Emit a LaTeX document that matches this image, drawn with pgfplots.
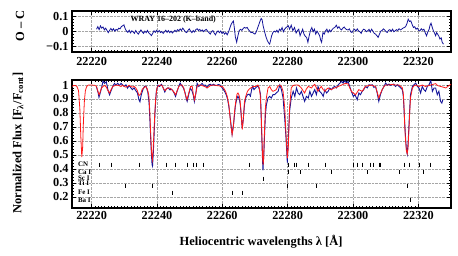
\documentclass[border=0pt]{standalone}
\usepackage{fontspec}
\setmainfont{Liberation Serif}
\usepackage{pgfplots}
\pgfplotsset{compat=1.18}
\definecolor{obsblue}{rgb}{0.08,0.08,0.6}
\definecolor{modred}{rgb}{1,0.1,0.1}
\pgfplotsset{
  common/.style={
    scale only axis,
    xmin=22214, xmax=22330,
    xtick={22220,22240,22260,22280,22300,22320},
    scaled x ticks=false,
    xticklabel={\pgfmathprintnumber[fixed,precision=0,1000 sep={}]{\tick}},
    minor x tick num=19,
    tick align=inside,
    major tick length=4bp, minor tick length=2bp,
    axis line style={line width=1.1bp},
    every tick/.style={black, line width=0.6bp},
    grid=major,
    major grid style={gray!70, densely dotted, line width=0.5bp},
    /pgf/number format/assume math mode=true,
    tick label style={font=\fontsize{12.3}{13}\selectfont\bfseries},
    clip=true,
  }
}
\begin{document}
\begin{tikzpicture}
\useasboundingbox (0bp,0bp) rectangle (458bp,-256bp);
% ---------- top panel: O - C ----------
\begin{axis}[common,
  at={(72bp,-52bp)}, anchor=south west,
  width=379bp, height=41bp,
  ymin=-0.14, ymax=0.135,
  ytick={-0.1,0,0.1}, yticklabels={−0.1,0,0.1},
  minor y tick num=4,
  xticklabel style={yshift=-2bp},
]
\addplot[obsblue, line width=0.8bp] coordinates {
(22221.5,0.013)(22221.9,0.03)(22222.3,0.01)(22222.7,0.035)(22223.1,0.02)(22223.5,0.028)(22223.9,0.008)(22224.3,0.02)(22224.7,0.005)(22225.1,-0.01)(22225.5,0.005)(22225.9,0.018)(22226.3,0.004)(22226.7,0.016)(22227.1,0.0)(22227.5,0.012)(22227.9,0.006)(22228.3,0.02)(22228.7,0.015)(22229.1,0.03)(22229.5,0.036)(22229.9,0.042)(22230.3,0.015)(22230.7,0.0)(22231.1,-0.008)(22231.5,0.006)(22231.9,-0.012)(22232.3,0.002)(22232.7,-0.005)(22233.1,-0.015)(22233.5,0.004)(22233.9,-0.01)(22234.3,-0.02)(22234.7,-0.005)(22235.1,0.008)(22235.5,-0.006)(22235.9,-0.015)(22236.3,0.0)(22236.7,-0.01)(22237.1,0.005)(22237.5,-0.012)(22237.9,-0.02)(22238.3,-0.03)(22238.7,-0.015)(22239.1,0.002)(22239.5,-0.008)(22239.9,0.006)(22240.3,-0.006)(22240.7,0.004)(22241.1,-0.01)(22241.5,-0.002)(22241.9,-0.015)(22242.3,-0.004)(22242.7,0.006)(22243.1,-0.008)(22243.5,0.004)(22243.9,-0.01)(22244.3,0.0)(22244.7,-0.012)(22245.1,-0.004)(22245.5,0.006)(22245.9,-0.004)(22246.3,0.01)(22246.7,0.002)(22247.1,0.015)(22247.5,0.004)(22247.9,0.02)(22248.3,0.008)(22248.7,-0.005)(22249.1,-0.01)(22249.5,0.005)(22249.9,0.015)(22250.3,0.0)(22250.7,-0.01)(22251.1,0.004)(22251.5,-0.006)(22251.9,0.01)(22252.3,0.016)(22252.7,0.004)(22253.1,0.012)(22253.5,0.0)(22253.9,0.008)(22254.3,-0.004)(22254.7,0.006)(22255.1,0.012)(22255.5,0.0)(22255.9,-0.01)(22256.3,-0.02)(22256.7,-0.004)(22257.1,0.004)(22257.5,-0.012)(22257.9,-0.025)(22258.3,-0.008)(22258.7,0.002)(22259.1,-0.01)(22259.5,0.0)(22259.9,-0.015)(22260.3,-0.006)(22260.7,-0.02)(22261.1,-0.01)(22261.5,-0.025)(22261.9,-0.006)(22262.3,0.02)(22262.7,0.045)(22263.1,0.06)(22263.4,0.068)(22263.7,0.02)(22264.0,-0.04)(22264.4,-0.074)(22264.8,-0.03)(22265.2,0.005)(22265.6,0.012)(22266.0,0.005)(22266.4,0.018)(22266.8,0.025)(22267.2,0.02)(22267.6,0.025)(22268.0,0.01)(22268.4,0.0)(22268.8,-0.01)(22269.2,-0.008)(22269.6,-0.015)(22270.0,-0.02)(22270.4,-0.005)(22270.8,0.02)(22271.2,0.045)(22271.6,0.07)(22271.9,0.085)(22272.2,0.075)(22272.5,0.036)(22273.0,-0.009)(22273.4,-0.04)(22273.8,-0.064)(22274.2,-0.08)(22274.5,-0.087)(22274.8,-0.06)(22275.1,-0.031)(22275.5,-0.009)(22275.9,0.0)(22276.3,-0.006)(22276.7,0.006)(22277.1,-0.009)(22277.5,0.013)(22277.9,0.004)(22278.3,0.024)(22278.7,-0.004)(22279.1,0.013)(22279.5,0.024)(22279.9,0.03)(22280.2,0.036)(22280.6,0.013)(22281.1,0.04)(22281.6,0.002)(22282.1,0.024)(22282.6,-0.013)(22283.0,0.004)(22283.4,0.013)(22283.8,-0.031)(22284.2,-0.009)(22284.6,0.013)(22285.0,-0.02)(22285.4,-0.035)(22285.8,-0.042)(22286.2,-0.075)(22286.6,-0.03)(22287.0,0.005)(22287.4,0.024)(22287.8,-0.004)(22288.2,0.013)(22288.6,-0.02)(22289.0,0.0)(22289.4,-0.015)(22289.8,-0.031)(22290.1,-0.06)(22290.4,-0.075)(22290.8,-0.01)(22291.2,-0.02)(22291.6,0.002)(22292.0,0.013)(22292.4,-0.009)(22292.8,0.008)(22293.2,-0.004)(22293.6,0.01)(22294.0,0.02)(22294.4,0.024)(22294.9,0.04)(22295.3,0.02)(22295.7,0.03)(22296.1,0.015)(22296.5,0.008)(22296.9,0.02)(22297.3,0.028)(22297.7,0.016)(22298.1,0.01)(22298.5,0.008)(22298.9,0.015)(22299.3,-0.005)(22299.7,-0.009)(22300.1,0.006)(22300.5,0.013)(22300.9,0.0)(22301.3,0.015)(22301.7,0.002)(22302.1,-0.004)(22302.5,-0.015)(22302.9,0.005)(22303.3,0.013)(22303.7,0.008)(22304.1,-0.004)(22304.5,0.002)(22304.9,0.012)(22305.3,-0.006)(22305.7,0.013)(22306.1,0.0)(22306.5,-0.015)(22306.9,-0.02)(22307.3,-0.03)(22307.7,-0.042)(22308.1,-0.02)(22308.5,0.0)(22308.9,0.004)(22309.3,0.015)(22309.7,0.008)(22310.1,-0.004)(22310.5,-0.009)(22310.9,0.006)(22311.3,0.01)(22311.7,-0.002)(22312.1,0.013)(22312.5,-0.004)(22312.9,0.002)(22313.3,0.01)(22313.7,0.004)(22314.1,0.016)(22314.5,0.008)(22314.9,0.013)(22315.3,0.02)(22315.7,0.024)(22316.1,0.03)(22316.5,0.05)(22316.9,0.08)(22317.3,0.065)(22317.7,0.069)(22318.1,0.045)(22318.5,0.024)(22318.9,0.03)(22319.3,0.013)(22319.7,0.02)(22320.1,0.004)(22320.5,0.002)(22320.9,0.016)(22321.3,0.006)(22321.7,0.013)(22322.1,-0.01)(22322.5,-0.031)(22322.9,-0.005)(22323.3,0.013)(22323.6,0.04)(22323.9,0.053)(22324.2,0.03)(22324.6,0.002)(22325.0,-0.015)(22325.3,-0.031)(22325.6,-0.01)(22325.9,-0.02)(22326.3,-0.035)(22326.6,-0.053)(22327.0,-0.045)(22327.3,-0.075)(22327.7,-0.087)
};
\node[font=\fontsize{8}{9}\selectfont\bfseries, inner sep=0pt] at (axis cs:22245,0.08) {WRAY 16–202 (K–band)};
\end{axis}
% ---------- bottom panel: spectra ----------
\begin{axis}[common,
  at={(72bp,-208bp)}, anchor=south west,
  width=379bp, height=128bp,
  ymin=0.12, ymax=1.036,
  ytick={0.2,0.3,0.4,0.5,0.6,0.7,0.8,0.9,1},
  minor y tick num=4,
  yticklabel style={/pgf/number format/fixed},
]
\addplot[obsblue, line width=0.9bp] coordinates {
(22221.5,0.985)(22222.0,0.945)(22222.25,0.912)(22222.6,0.94)(22223.0,0.975)(22223.5,1.028)(22224.0,1.012)(22224.5,1.024)(22225.0,0.965)(22225.5,0.93)(22226.0,0.962)(22226.5,0.99)(22227.0,1.012)(22227.5,1.0)(22228.0,1.013)(22228.5,0.996)(22229.0,1.012)(22229.5,1.0)(22230.0,0.99)(22230.5,1.002)(22231.0,0.978)(22231.5,0.996)(22232.0,0.98)(22232.5,0.967)(22233.0,0.98)(22233.5,0.96)(22234.0,0.945)(22234.5,0.895)(22234.8,0.88)(22235.2,0.93)(22235.7,0.967)(22236.2,0.99)(22236.7,0.99)(22237.2,0.95)(22237.6,0.87)(22237.9,0.72)(22238.2,0.55)(22238.5,0.43)(22238.65,0.42)(22238.9,0.52)(22239.1,0.63)(22239.4,0.8)(22239.8,0.955)(22240.3,1.0)(22240.8,0.99)(22241.4,1.005)(22241.9,0.98)(22242.4,0.95)(22242.9,0.975)(22243.4,0.98)(22244.0,0.965)(22244.5,0.97)(22245.0,0.955)(22245.4,0.935)(22245.7,0.918)(22246.1,0.95)(22246.6,0.985)(22247.1,1.014)(22247.6,0.995)(22248.1,0.98)(22248.6,0.945)(22249.0,0.9)(22249.25,0.883)(22249.7,0.93)(22250.2,0.978)(22250.7,0.96)(22251.1,0.93)(22251.45,0.882)(22251.9,0.94)(22252.3,1.012)(22252.8,0.99)(22253.3,1.0)(22253.8,1.012)(22254.3,0.997)(22254.8,1.0)(22255.3,0.98)(22255.8,1.0)(22256.3,1.006)(22256.8,0.997)(22257.3,1.006)(22257.8,0.998)(22258.3,0.997)(22258.8,1.004)(22259.3,1.0)(22259.8,0.985)(22260.3,0.97)(22260.8,0.95)(22261.2,0.93)(22261.6,0.9)(22262.0,0.848)(22262.5,0.752)(22263.0,0.648)(22263.5,0.73)(22264.0,0.85)(22264.4,0.9)(22264.8,0.92)(22265.2,0.9)(22265.5,0.86)(22265.8,0.78)(22266.1,0.69)(22266.4,0.75)(22266.8,0.86)(22267.2,0.91)(22267.7,0.93)(22268.2,0.935)(22268.6,0.92)(22269.0,0.97)(22269.3,0.99)(22269.7,0.967)(22270.2,0.98)(22270.7,0.99)(22271.0,0.99)(22271.4,0.967)(22271.7,0.931)(22272.0,0.693)(22272.25,0.5)(22272.45,0.39)(22272.7,0.5)(22272.9,0.621)(22273.2,0.788)(22273.5,0.86)(22274.0,0.907)(22274.5,0.919)(22275.0,0.907)(22275.5,0.931)(22276.0,0.931)(22276.5,0.943)(22277.1,0.955)(22277.6,1.0)(22278.1,0.967)(22278.6,0.907)(22279.1,0.764)(22279.5,0.621)(22279.9,0.445)(22280.3,0.669)(22280.6,0.812)(22281.1,0.907)(22281.7,0.955)(22282.2,0.919)(22282.7,0.979)(22283.2,0.943)(22283.7,0.931)(22284.2,0.955)(22284.7,0.919)(22285.2,0.883)(22285.75,0.919)(22286.3,0.907)(22286.8,0.955)(22287.3,0.919)(22287.8,0.943)(22288.3,0.967)(22288.8,0.931)(22289.3,0.99)(22289.8,0.955)(22290.3,0.943)(22290.9,0.919)(22291.4,0.967)(22291.9,0.943)(22292.4,0.955)(22292.9,0.979)(22293.4,0.967)(22293.9,0.983)(22294.4,0.99)(22294.95,0.979)(22295.5,1.002)(22296.0,1.014)(22296.5,1.026)(22297.0,1.014)(22297.5,1.031)(22298.0,1.014)(22298.5,1.026)(22299.0,0.99)(22299.5,0.955)(22300.1,0.919)(22300.6,0.931)(22301.3,0.895)(22301.8,0.943)(22302.3,0.931)(22302.8,0.955)(22303.3,0.967)(22303.8,0.99)(22304.35,0.979)(22304.9,1.002)(22305.4,0.998)(22305.9,1.002)(22306.4,0.983)(22306.9,0.99)(22307.4,0.943)(22307.9,0.883)(22308.4,0.931)(22308.95,0.967)(22309.5,0.99)(22310.0,1.014)(22310.5,0.998)(22311.0,1.007)(22311.5,0.998)(22312.0,1.002)(22312.5,1.007)(22313.0,0.99)(22313.6,1.002)(22314.1,0.99)(22314.6,0.979)(22315.1,0.967)(22315.4,0.92)(22315.6,0.836)(22315.85,0.72)(22316.1,0.621)(22316.35,0.54)(22316.6,0.507)(22316.85,0.58)(22317.1,0.693)(22317.35,0.82)(22317.6,0.931)(22318.2,0.99)(22318.7,1.002)(22319.2,1.014)(22319.7,0.99)(22320.2,0.979)(22320.7,0.943)(22321.2,0.99)(22321.7,0.967)(22322.2,0.955)(22322.75,0.99)(22323.3,1.002)(22323.8,1.035)(22324.3,0.955)(22324.8,0.979)(22325.3,0.979)(22325.8,0.931)(22326.3,0.955)(22326.8,0.883)(22327.2,0.871)(22327.5,0.895)
};
\addplot[modred, line width=0.8bp] coordinates {
(22214.0,0.99)(22214.5,0.997)(22215.0,0.997)(22215.5,0.99)(22216.0,0.96)(22216.4,0.83)(22216.7,0.63)(22217.0,0.485)(22217.25,0.55)(22217.5,0.74)(22217.8,0.89)(22218.1,0.96)(22218.5,0.99)(22219.0,1.0)(22220.0,1.0)(22221.0,0.998)(22221.5,0.99)(22222.0,0.95)(22222.3,0.93)(22222.6,0.95)(22223.0,0.978)(22223.5,0.99)(22224.0,0.998)(22224.5,0.985)(22225.0,0.96)(22225.5,0.943)(22226.0,0.97)(22226.5,0.99)(22227.0,0.995)(22227.5,1.0)(22228.0,0.998)(22228.5,0.995)(22229.0,0.99)(22229.5,0.998)(22230.0,0.99)(22230.5,0.985)(22231.0,0.99)(22231.5,0.998)(22232.0,0.99)(22232.5,0.985)(22233.0,0.99)(22233.5,0.98)(22234.0,0.96)(22234.5,0.925)(22235.0,0.935)(22235.5,0.97)(22236.0,0.98)(22236.5,0.99)(22237.0,0.975)(22237.5,0.93)(22237.8,0.82)(22238.1,0.64)(22238.4,0.5)(22238.6,0.465)(22238.8,0.52)(22239.0,0.62)(22239.3,0.78)(22239.6,0.9)(22240.0,0.98)(22240.5,0.995)(22241.0,1.0)(22241.5,0.998)(22242.0,0.975)(22242.5,0.96)(22243.0,0.975)(22243.6,0.98)(22244.2,0.975)(22244.8,0.96)(22245.2,0.95)(22245.7,0.93)(22246.2,0.96)(22246.7,0.99)(22247.2,1.0)(22247.7,1.0)(22248.2,0.98)(22248.7,0.93)(22249.2,0.895)(22249.7,0.94)(22250.3,0.99)(22250.8,0.99)(22251.1,0.94)(22251.5,0.895)(22251.9,0.94)(22252.3,0.99)(22252.8,1.0)(22253.3,1.0)(22254.0,0.995)(22254.5,0.99)(22255.0,0.985)(22255.4,0.98)(22256.0,0.99)(22256.5,0.998)(22257.4,1.0)(22258.0,0.998)(22258.5,0.995)(22259.0,0.995)(22259.5,0.99)(22260.0,0.99)(22260.5,0.975)(22261.0,0.955)(22261.5,0.92)(22262.0,0.86)(22262.5,0.74)(22263.0,0.645)(22263.4,0.7)(22263.7,0.8)(22264.1,0.88)(22264.5,0.935)(22264.8,0.943)(22265.1,0.93)(22265.4,0.9)(22265.7,0.82)(22266.1,0.681)(22266.4,0.75)(22266.8,0.883)(22267.2,0.92)(22267.7,0.955)(22268.2,0.97)(22268.7,0.979)(22269.5,0.99)(22270.2,0.99)(22270.9,1.0)(22271.3,0.98)(22271.6,0.93)(22271.9,0.8)(22272.15,0.62)(22272.35,0.48)(22272.5,0.43)(22272.65,0.47)(22272.9,0.66)(22273.2,0.84)(22273.5,0.91)(22274.0,0.979)(22274.5,0.99)(22275.0,0.967)(22275.5,0.955)(22276.0,0.96)(22276.5,0.967)(22277.0,0.99)(22277.6,1.0)(22278.1,0.99)(22278.6,0.955)(22279.1,0.84)(22279.5,0.65)(22279.9,0.476)(22280.2,0.55)(22280.6,0.84)(22281.1,0.979)(22281.6,0.995)(22282.2,1.0)(22283.2,1.0)(22283.7,0.99)(22284.2,0.979)(22284.7,0.96)(22285.2,0.943)(22285.7,0.97)(22286.3,0.99)(22286.8,0.985)(22287.3,0.979)(22287.8,0.995)(22288.3,1.005)(22288.8,0.98)(22289.3,0.955)(22289.8,0.975)(22290.3,0.99)(22290.8,0.97)(22291.4,0.955)(22291.9,0.97)(22292.4,0.979)(22292.9,0.97)(22293.4,0.967)(22293.9,0.975)(22294.4,0.979)(22295.0,0.985)(22295.5,0.99)(22296.0,0.995)(22296.5,1.0)(22297.0,1.005)(22297.5,1.01)(22298.0,1.01)(22298.5,1.008)(22299.0,0.98)(22299.5,0.955)(22300.0,0.945)(22300.8,0.931)(22301.8,0.967)(22302.8,0.955)(22303.8,0.99)(22304.6,0.995)(22305.4,1.0)(22306.2,0.995)(22306.9,0.99)(22307.4,0.95)(22307.9,0.907)(22308.4,0.94)(22308.95,0.967)(22309.5,0.99)(22310.0,1.0)(22311.0,1.0)(22312.0,1.005)(22313.0,1.0)(22314.1,1.0)(22314.6,0.99)(22315.1,0.98)(22315.4,0.94)(22315.6,0.86)(22315.85,0.7)(22316.1,0.6)(22316.35,0.53)(22316.6,0.508)(22316.85,0.55)(22317.1,0.67)(22317.35,0.8)(22317.6,0.907)(22318.2,0.979)(22318.7,0.995)(22319.2,1.0)(22320.2,0.99)(22321.2,1.0)(22322.2,0.99)(22323.0,0.995)(22323.8,1.0)(22324.5,1.005)(22325.3,1.01)(22326.0,0.995)(22326.8,0.99)(22327.6,0.985)(22328.4,0.979)(22329.3,0.995)(22330.0,1.005)
};
% line identifications
\addplot[only marks, mark=|, mark size=2bp, mark options={black, line width=0.5bp}] coordinates {
(22222.2,0.43)(22226.0,0.43)(22234.7,0.43)(22242.7,0.43)(22245.7,0.43)(22249.4,0.43)(22251.2,0.43)(22251.9,0.43)(22254.1,0.43)(22268.3,0.43)(22280.2,0.43)(22282.0,0.43)(22282.7,0.43)(22286.2,0.43)(22291.6,0.43)(22300.1,0.43)(22301.3,0.43)(22302.8,0.43)(22305.3,0.43)(22306.2,0.43)(22307.9,0.43)(22308.4,0.43)(22315.8,0.43)(22317.2,0.43)(22320.4,0.43)(22323.5,0.43)
};
\addplot[only marks, mark=|, mark size=2bp, mark options={black, line width=0.5bp}] coordinates {
(22280.1,0.38)(22283.8,0.38)(22293.3,0.38)(22304.3,0.38)(22314.2,0.38)(22321.5,0.38)
};
\addplot[only marks, mark=|, mark size=2bp, mark options={black, line width=0.5bp}] coordinates {
(22272.5,0.33)
};
\addplot[only marks, mark=|, mark size=2bp, mark options={black, line width=0.5bp}] coordinates {
(22230.3,0.28)(22238.5,0.28)(22279.9,0.28)(22288.9,0.28)(22316.5,0.28)
};
\addplot[only marks, mark=|, mark size=2bp, mark options={black, line width=0.5bp}] coordinates {
(22244.8,0.23)(22263.0,0.23)(22266.1,0.23)
};
\addplot[only marks, mark=|, mark size=2bp, mark options={black, line width=0.5bp}] coordinates {
(22317.5,0.18)
};
\begin{scope}[every node/.style={font=\fontsize{7}{7.5}\selectfont\bfseries, inner sep=0pt, anchor=west}]
\node at (axis cs:22215.8,0.43) {CN};
\node at (axis cs:22215.8,0.375) {Ca I};
\node at (axis cs:22215.8,0.335) {Sc I};
\node at (axis cs:22215.8,0.295) {Ti I};
\node at (axis cs:22215.8,0.23) {Fe I};
\node at (axis cs:22215.8,0.175) {Ba I};
\end{scope}
\end{axis}
% axis titles
\node[rotate=90, font=\fontsize{12.5}{13}\selectfont\bfseries] at (20bp,-26bp) {O – C};
\node[rotate=90, font=\fontsize{12.5}{13}\selectfont\bfseries] at (18bp,-143bp) {Normalized Flux [F\textsubscript{λ}/F\textsubscript{cont}]};
\node[font=\fontsize{12.5}{13}\selectfont\bfseries] at (261bp,-242bp) {Heliocentric wavelengths λ [Å]};
\end{tikzpicture}
\end{document}
